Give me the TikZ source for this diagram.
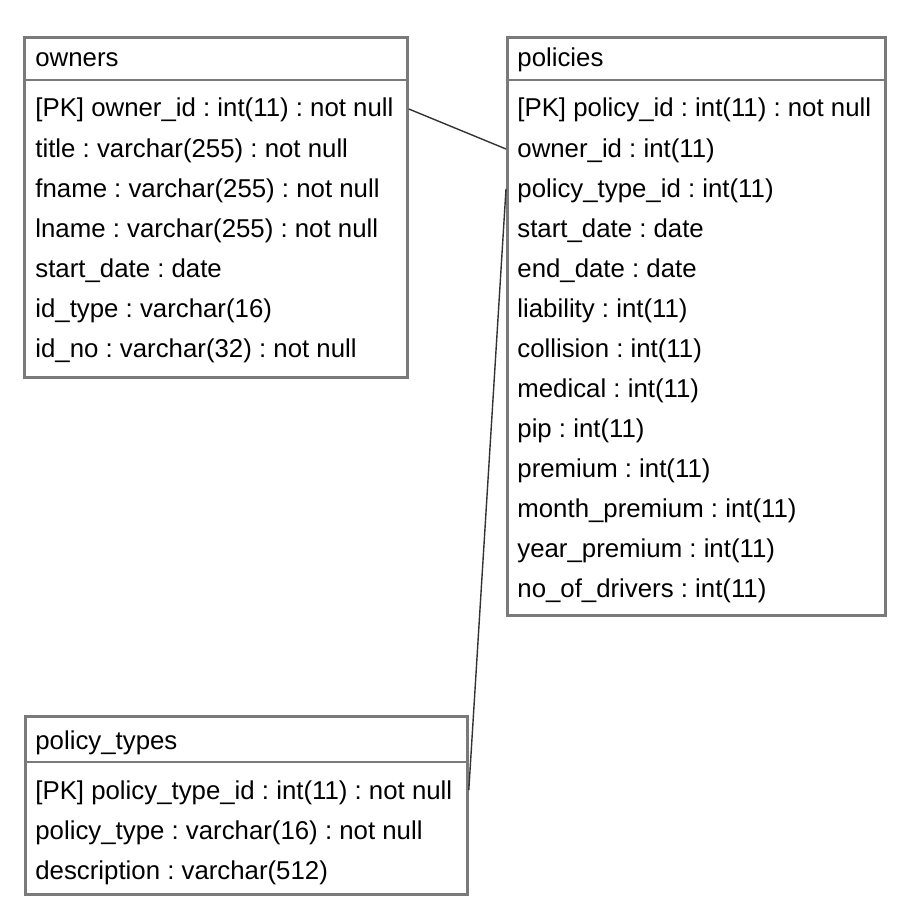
\documentclass[tikz,border=0pt]{standalone}
\usepackage{fontspec}
\setmainfont{Liberation Sans}
\frenchspacing
\definecolor{boxgray}{HTML}{7A7A7A}
\definecolor{linegray}{HTML}{333333}
\begin{document}
\begin{tikzpicture}[x=0.5pt,y=-0.5pt,
  tbl/.style={draw=boxgray, line width=1.4pt, rectangle, anchor=north west, inner sep=0pt},
  sep/.style={draw=boxgray, line width=1.4pt},
  txt/.style={anchor=base west, inner sep=0pt, font=\fontsize{12.9}{15}\selectfont\frenchspacing, text=black},
  conn/.style={draw=linegray, line width=0.7pt}]
\useasboundingbox (0,0) rectangle (910,920);
% owners
\node[tbl, minimum width=191.5pt, minimum height=170pt] (owners) at (23,36) {};
\draw[sep] (23,80) -- (406,80);
\node[txt] (oh) at (35,67) {owners};
\foreach \t [count=\i] in {{[PK] owner\_id : int(11) : not null},
  {title : varchar(255) : not null},
  {fname : varchar(255) : not null},
  {lname : varchar(255) : not null},
  {start\_date : date},
  {id\_type : varchar(16)},
  {id\_no : varchar(32) : not null}}
  \node[txt] (o\i) at (35,{77+40*\i}) {\t};
% policies
\node[tbl, minimum width=189pt, minimum height=289pt] (policies) at (506,36) {};
\draw[sep] (506,80) -- (884,80);
\node[txt] (ph) at (517,67) {policies};
\foreach \t [count=\i] in {{[PK] policy\_id : int(11) : not null},
  {owner\_id : int(11)},
  {policy\_type\_id : int(11)},
  {start\_date : date},
  {end\_date : date},
  {liability : int(11)},
  {collision : int(11)},
  {medical : int(11)},
  {pip : int(11)},
  {premium : int(11)},
  {month\_premium : int(11)},
  {year\_premium : int(11)},
  {no\_of\_drivers : int(11)}}
  \node[txt] (p\i) at (517,{77+40*\i}) {\t};
% policy_types
\node[tbl, minimum width=221pt, minimum height=89pt] (ptypes) at (24,715) {};
\draw[sep] (24,762) -- (466,762);
\node[txt] (th) at (35,749) {policy\_types};
\foreach \t [count=\i] in {{[PK] policy\_type\_id : int(11) : not null},
  {policy\_type : varchar(16) : not null},
  {description : varchar(512)}}
  \node[txt] (t\i) at (35,{759+40*\i}) {\t};
% connectors
\draw[conn] (owners.east |- 0,109) coordinate (c1) -- (policies.west |- 0,149) coordinate (c2);
\draw[conn] (policies.west |- 0,189) coordinate (c3) -- (ptypes.east |- 0,790) coordinate (c4);
\end{tikzpicture}
\end{document}
